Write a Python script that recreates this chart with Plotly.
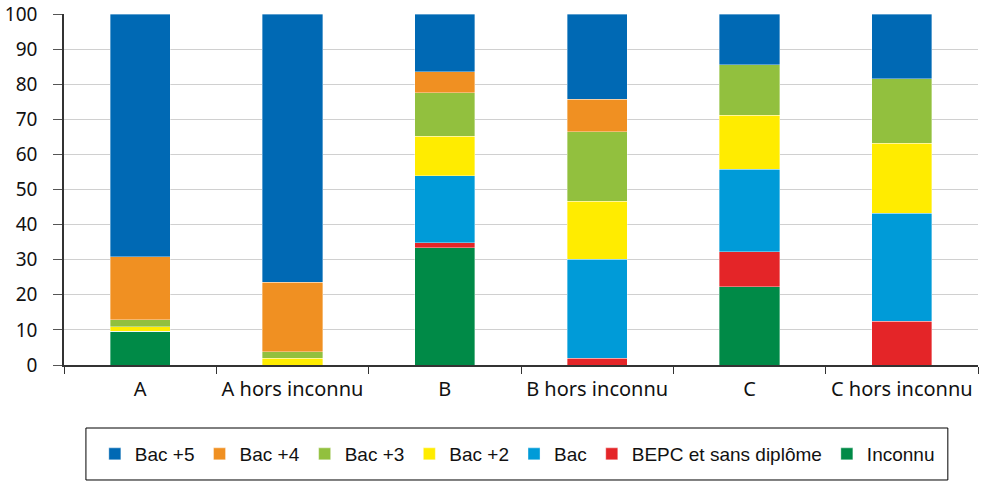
import plotly.graph_objects as go

categories = ["A", "A hors inconnu", "B", "B hors inconnu", "C", "C hors inconnu"]

series_names = ["Inconnu", "BEPC et sans diplôme", "Bac", "Bac +2", "Bac +3", "Bac +4", "Bac +5"]
inconnu = [9.6, 0, 33.4, 0, 22.3, 0]
bepc = [0, 0, 1.4, 1.9, 9.9, 12.4]
bac = [0, 0, 19.1, 28.3, 23.6, 30.9]
bac2 = [1.3, 1.9, 11.3, 16.4, 15.3, 19.9]
bac3 = [2.0, 1.9, 12.4, 19.9, 14.4, 18.4]
bac4 = [18.0, 19.8, 6.0, 9.2, 0, 0]
bac5 = [69.1, 76.4, 16.4, 24.3, 14.5, 18.4]

colors = ["#008A47", "#E42528", "#009BD8", "#FFEC00", "#92C03E", "#F09022", "#0069B4"]
values = [inconnu, bepc, bac, bac2, bac3, bac4, bac5]

fig = go.Figure()
for name, vals, col in zip(series_names, values, colors):
    fig.add_trace(go.Bar(
        x=categories, y=vals, name=name,
        marker=dict(color=col, line=dict(color="rgba(255,255,255,0.6)", width=0.6)),
        width=0.395,
    ))

# legend frame
fig.add_shape(type="rect", xref="paper", yref="paper",
              x0=0.024, x1=0.967, y0=-0.1795, y1=-0.3276,
              line=dict(color="#000000", width=1), fillcolor="rgba(0,0,0,0)")

fig.update_layout(
    barmode="stack",
    width=982, height=482,
    margin=dict(l=64, r=4, t=14, b=117, autoexpand=False),
    plot_bgcolor="white", paper_bgcolor="white",
    font=dict(family="Noto Sans, Open Sans, sans-serif", size=19, color="#111111"),
    showlegend=True,
    legend=dict(
        orientation="h", traceorder="reversed",
        x=0.496, xanchor="center", y=-0.2536, yanchor="middle",
        borderwidth=0, bgcolor="rgba(0,0,0,0)",
        font=dict(family="Liberation Sans, Arial, sans-serif", size=19, color="#111"),
    ),
)
fig.update_yaxes(
    range=[0, 100], dtick=10, showgrid=True, gridcolor="#d0d0d0", gridwidth=1,
    showline=True, linecolor="#333333", linewidth=1.5,
    ticks="outside", ticklen=9, tickcolor="#555555", ticklabelstandoff=12,
    ticklabeloverflow="allow",
    zeroline=False, fixedrange=True, automargin=False,
)
fig.update_xaxes(
    showline=True, linecolor="#333333", linewidth=1.5,
    ticks="outside", tickson="boundaries", ticklen=7, tickcolor="#333333",
    tickfont=dict(size=20), tickangle=0, ticklabelstandoff=5,
    ticklabeloverflow="allow",
    showgrid=False, fixedrange=True, automargin=False,
)

fig.write_html(
    "out.html",
    config={"displayModeBar": False},
    post_script="document.body.style.margin='0';document.body.style.padding='0';",
)
